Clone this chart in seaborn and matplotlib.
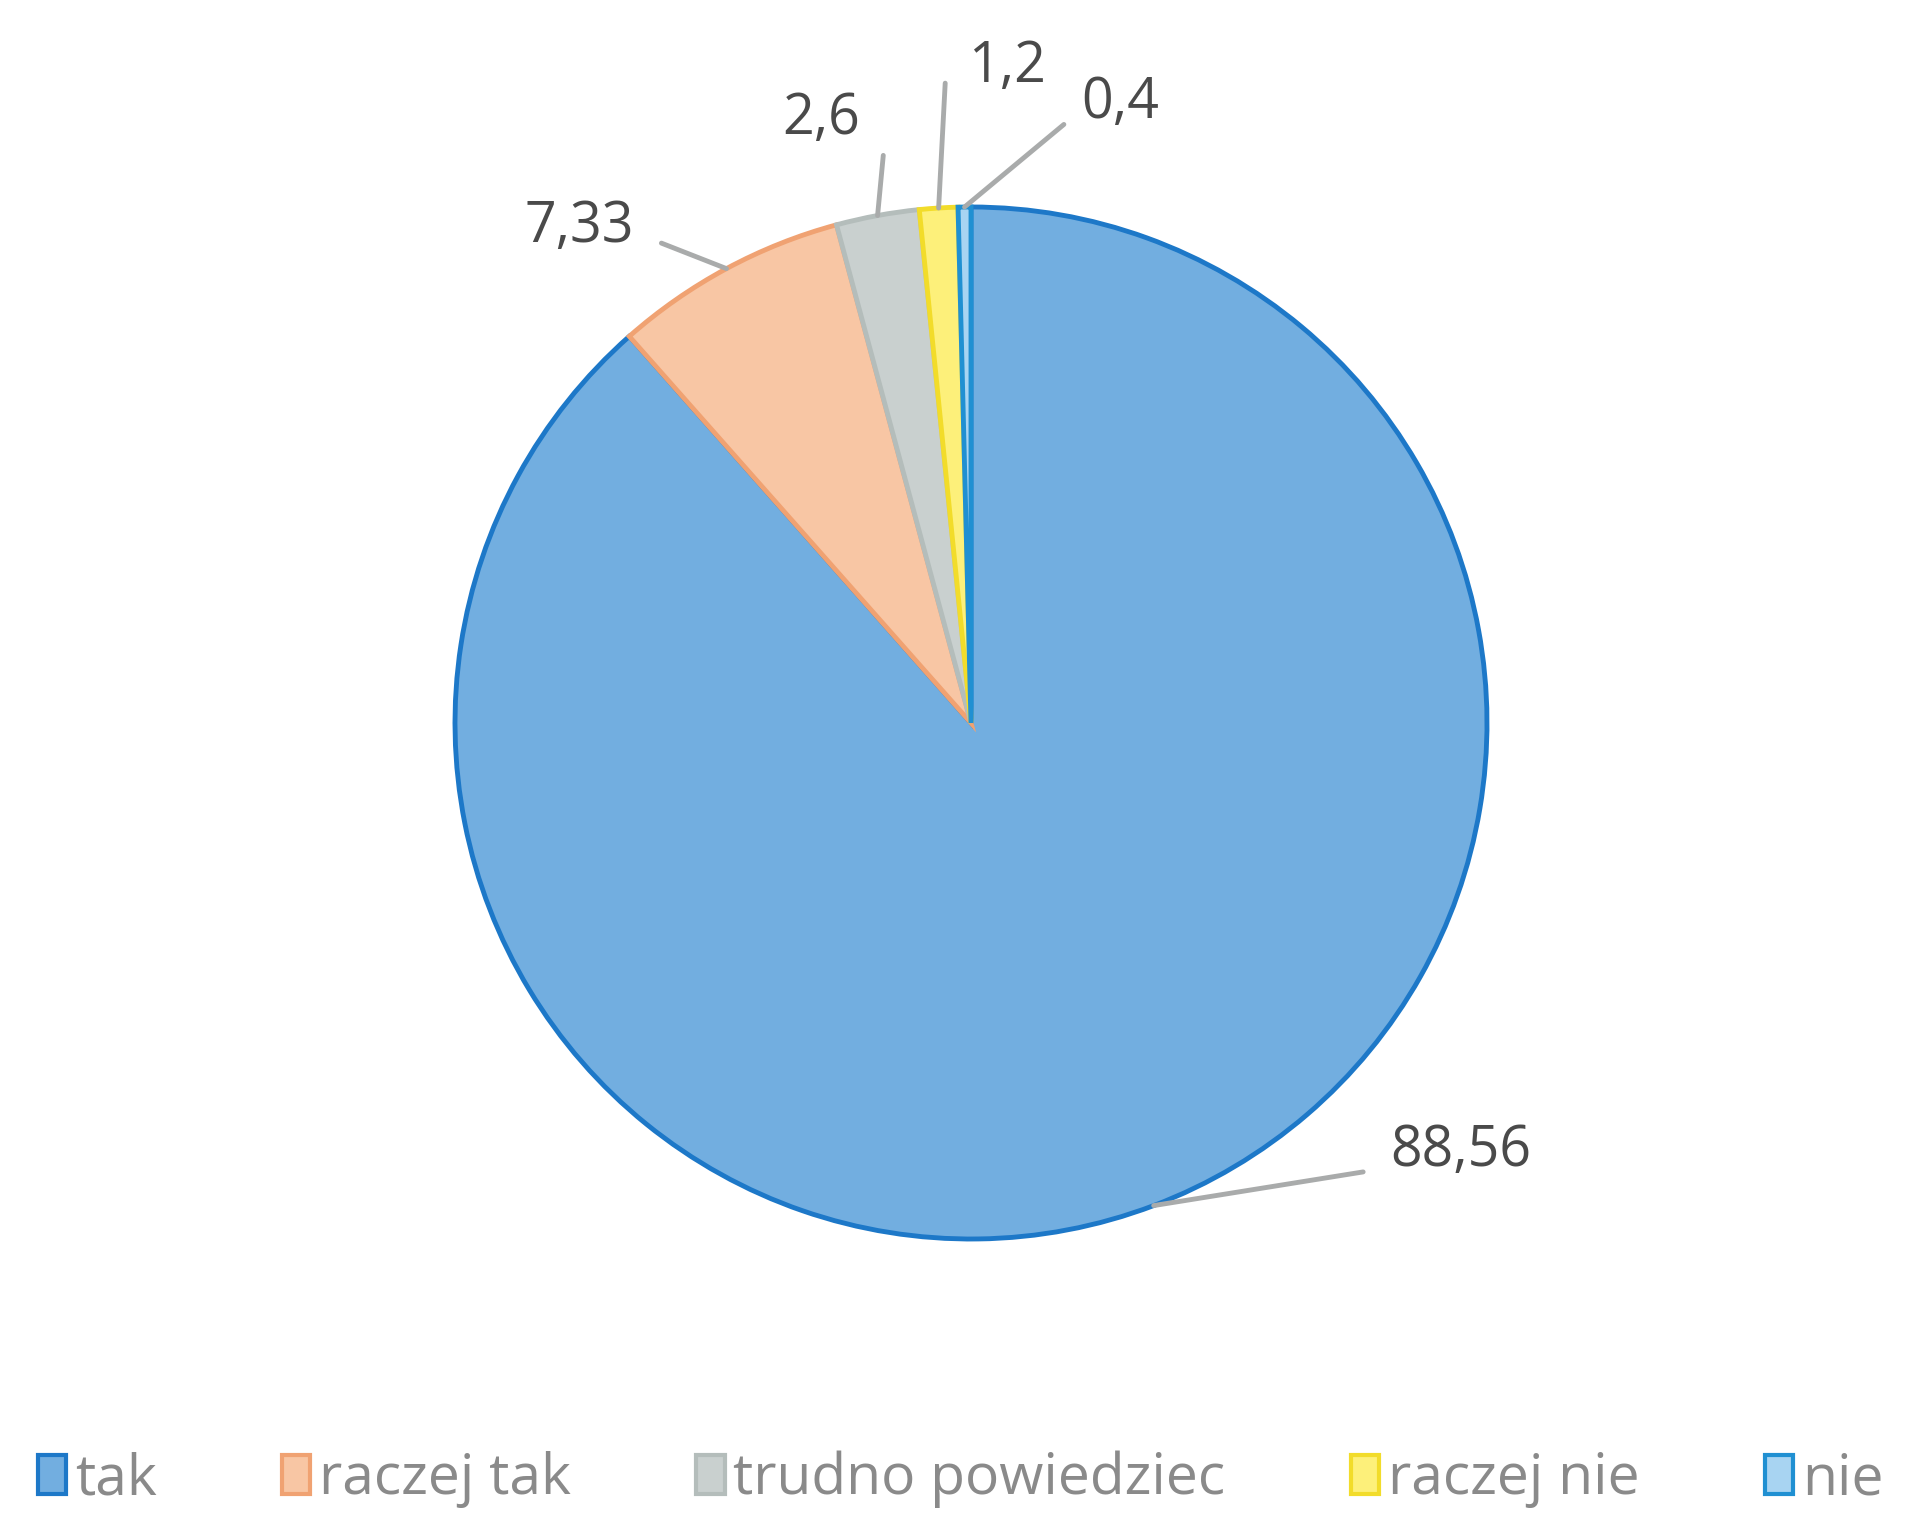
import numpy as np
import matplotlib
matplotlib.use("Agg")
import matplotlib.pyplot as plt
import seaborn as sns

# ── DATA ──────────────────────────────────────────────────
categories = ["tak", "raczej tak", "trudno powiedziec", "raczej nie", "nie"]
values = [88.56, 7.33, 2.6, 1.2, 0.4]
value_labels = ["88,56", "7,33", "2,6", "1,2", "0,4"]

# ── STYLE ─────────────────────────────────────────────────
sns.set_theme(style="white")
plt.rcParams["font.family"] = ["Open Sans", "DejaVu Sans"]

fills = ["#72aee0", "#f8c6a4", "#c9d0cf", "#fdf07a", "#a8d4f2"]
edges = ["#1d78c8", "#f0a272", "#b4bdbb", "#f2dc2a", "#2090d2"]

fig = plt.figure(figsize=(19.21, 15.16), dpi=100)
cx, cy, r = 971, 723, 516
W, H = 1921, 1516
ax = fig.add_axes([(cx - r) / W, (H - cy - r) / H, 2 * r / W, 2 * r / H])

wedges, _ = ax.pie(values, startangle=90, counterclock=False, colors=fills,
                   wedgeprops=dict(linewidth=3.5))
for w, ec in zip(wedges, edges):
    w.set_edgecolor(ec)
ax.set_xlim(-1, 1)
ax.set_ylim(-1, 1)
ax.axis("off")

# ── LABELS (positions in pie units) ───────────────────────
label_pos = [(0.95, -0.83), (-0.76, 0.96), (-0.29, 1.17), (0.07, 1.27), (0.29, 1.20)]
line_start = [(0.76, -0.87), (-0.60, 0.93), (-0.17, 1.10), (-0.05, 1.24), (0.18, 1.16)]
for w, lab, tp, ls in zip(wedges, value_labels, label_pos, line_start):
    mid = np.deg2rad((w.theta1 + w.theta2) / 2)
    tip = (np.cos(mid), np.sin(mid))
    ax.annotate("", xy=tip, xytext=ls, annotation_clip=False,
                arrowprops=dict(arrowstyle="-", color="#a9abab", lw=3.5,
                                shrinkA=0, shrinkB=0))
    ax.text(tp[0], tp[1], lab, ha="center", va="center", fontsize=40,
            color="#4a4a4a", clip_on=False)

# ── LEGEND ────────────────────────────────────────────────
handles = [plt.Rectangle((0, 0), 1, 1, facecolor=f, edgecolor=e, lw=3)
           for f, e in zip(fills, edges)]
fig.legend(handles, categories, loc="center", bbox_to_anchor=(0.5, 0.024),
           ncol=5, frameon=False, fontsize=41, labelcolor="#8a8a8a",
           handlelength=0.5, handleheight=0.7, handletextpad=0.15,
           columnspacing=2.2)

plt.savefig("out.png", dpi=100, facecolor="white")
